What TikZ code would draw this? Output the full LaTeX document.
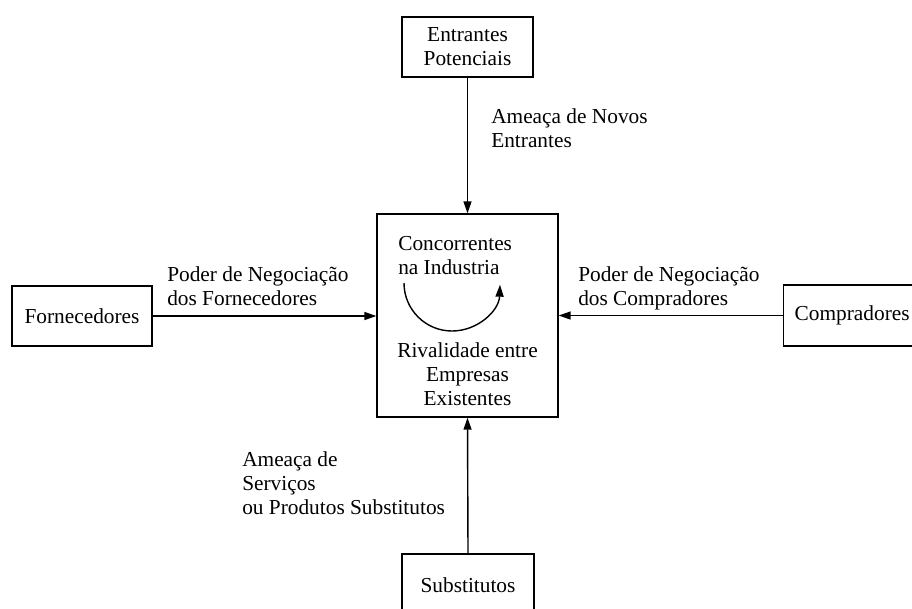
\documentclass[tikz,border=0pt]{standalone}
\usepackage{fontspec}
\setmainfont{Liberation Serif}
\usetikzlibrary{arrows.meta}
\begin{document}
\begin{tikzpicture}[x=0.75pt,y=-0.75pt,
  every node/.style={font=\fontsize{16pt}{18pt}\selectfont},
  box/.style={draw,line width=1pt,rectangle,inner sep=0pt},
  lbl/.style={align=left,inner sep=0pt,anchor=north west},
  conn/.style={line width=1.05pt,-{Triangle[length=9pt,width=6pt]}}]
\useasboundingbox (0,0) rectangle (912,608);
\clip (0,0) rectangle (912,608);
\fill[white] (0,0) rectangle (912,608);
% boxes
\node[box,minimum width=98.25pt,minimum height=45pt,align=center] (ent) at (467.5,47) {Entrantes\\Potenciais};
\node[box,minimum width=135.75pt,minimum height=152.25pt] (rival) at (467.5,315.5) {};
\node[box,minimum width=105pt,minimum height=45pt] (forn) at (82,316) {Fornecedores};
\node[box,anchor=west,inner xsep=8.25pt,text width=108.75pt,align=left,minimum height=45.75pt] (comp) at (783,315.5) {Compradores};
\node[box,minimum width=99pt,minimum height=46.5pt] (subs) at (468,585) {Substitutos};
% center texts
\node[lbl] (conc) at (398,236) {Concorrentes\\na Industria};
\node[align=center,inner sep=0pt,anchor=north] (riv) at (467.5,342) {Rivalidade entre\\Empresas\\Existentes};
\coordinate (arcS) at (404,283);
\draw[conn] (arcS) arc[start angle=180,end angle=2,radius=48];
% connectors
\draw[conn] (ent.south) -- (rival.north);
\draw[conn] (subs.north) -- (rival.south);
\draw[conn] (forn.east) -- (forn.east -| rival.west);
\draw[conn] (comp.west) -- (comp.west -| rival.east);
% labels
\node[lbl] (l1) at (491,108) {Ameaça de Novos\\Entrantes};
\node[lbl] (l2) at (167,266) {Poder de Negociação\\dos Fornecedores};
\node[lbl] (l3) at (578,266) {Poder de Negociação\\dos Compradores};
\node[lbl] (l4) at (242,451) {Ameaça de\\Serviços\\ou Produtos Substitutos};
\end{tikzpicture}
\end{document}
